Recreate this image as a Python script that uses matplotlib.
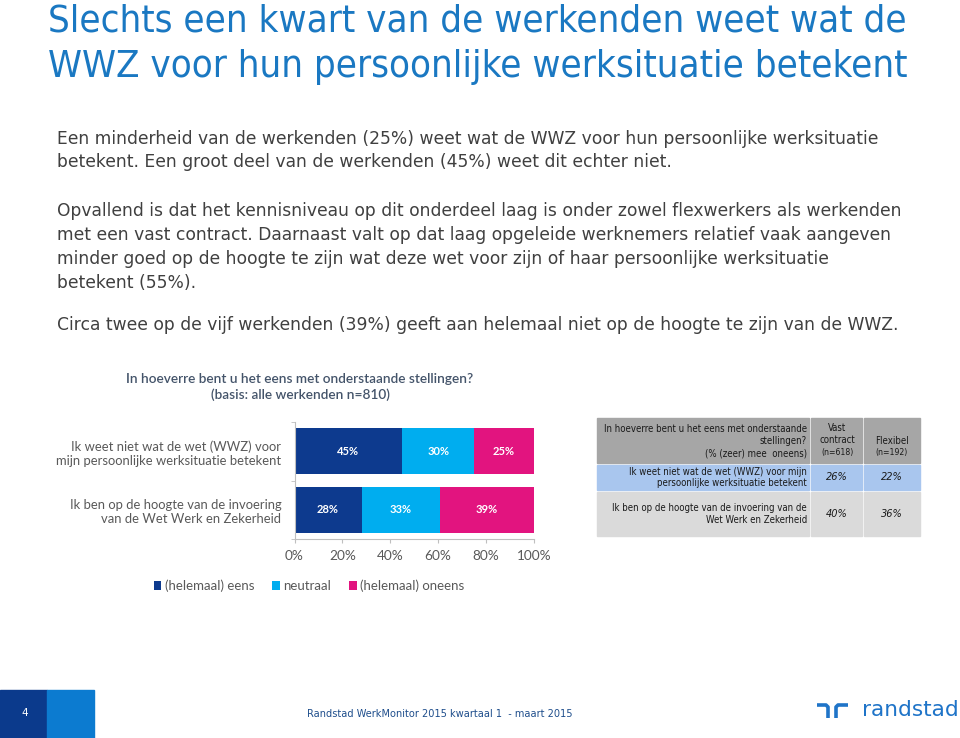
import matplotlib
matplotlib.use("Agg")
import matplotlib.pyplot as plt
from matplotlib.patches import Rectangle
from matplotlib.lines import Line2D
import numpy as np

# ---- data ----
title_lines = ["Slechts een kwart van de werkenden weet wat de",
               "WWZ voor hun persoonlijke werksituatie betekent"]
body_lines = [
    "Een minderheid van de werkenden (25%) weet wat de WWZ voor hun persoonlijke werksituatie",
    "betekent. Een groot deel van de werkenden (45%) weet dit echter niet.",
    "Opvallend is dat het kennisniveau op dit onderdeel laag is onder zowel flexwerkers als werkenden",
    "met een vast contract. Daarnaast valt op dat laag opgeleide werknemers relatief vaak aangeven",
    "minder goed op de hoogte te zijn wat deze wet voor zijn of haar persoonlijke werksituatie",
    "betekent (55%).",
    "Circa twee op de vijf werkenden (39%) geeft aan helemaal niet op de hoogte te zijn van de WWZ.",
]
body_y = [139, 162, 211, 235, 259, 283, 325]

chart_title = "In hoeverre bent u het eens met onderstaande stellingen?\n(basis: alle werkenden n=810)"
statements = ["Ik weet niet wat de wet (WWZ) voor\nmijn persoonlijke werksituatie betekent",
              "Ik ben op de hoogte van de invoering\nvan de Wet Werk en Zekerheid"]
series_names = ["(helemaal) eens", "neutraal", "(helemaal) oneens"]
eens = [0.45, 0.28]
neutraal = [0.30, 0.33]
oneens = [0.25, 0.39]
series_colors = ["#0d3a8e", "#00adef", "#e2147f"]

table_header = ["In hoeverre bent u het eens met onderstaande\nstellingen?\n(% (zeer) mee  oneens)",
                "Vast\ncontract", "Flexibel"]
table_n = ["(n=618)", "(n=192)"]
table_rows = ["Ik weet niet wat de wet (WWZ) voor mijn\npersoonlijke werksituatie betekent",
              "Ik ben op de hoogte van de invoering van de\nWet Werk en Zekerheid"]
vast = [26, 40]
flexibel = [22, 36]

footer_page = "4"
footer_text = "Randstad WerkMonitor 2015 kwartaal 1  - maart 2015"

W, H = 960, 738
fig = plt.figure(figsize=(W / 100, H / 100), dpi=100)


def px(x, y):
    return x / W, 1 - y / H


blue = "#1a78c2"
body_col = "#404040"

# title
for i, line in enumerate(title_lines):
    fig.text(*px(48, 21 + 46 * i), line, fontsize=27.5, color=blue,
             family="DejaVu Sans", fontstretch="condensed", va="center", ha="left")

# body
for line, y in zip(body_lines, body_y):
    fig.text(*px(57, y), line, fontsize=12.3, color=body_col, family="DejaVu Sans",
             va="center", ha="left")

# chart title
fig.text(*px(300, 387), chart_title, fontsize=9.8, color="#44546a", family="Lato",
         fontweight="semibold", ha="center", va="center", linespacing=1.35)

# ---- stacked bar chart ----
x0, x1 = 294.5, 533.8
y0, y1 = 422, 539
ax = fig.add_axes([x0 / W, 1 - y1 / H, (x1 - x0) / W, (y1 - y0) / H])
pos = np.arange(len(statements))
left = np.zeros(len(statements))
handles = []
for vals, name, col in zip([eens, neutraal, oneens], series_names, series_colors):
    b = ax.barh(pos, vals, left=left, height=0.79, color=col, label=name)
    handles.append(b)
    for p, v, l in zip(pos, vals, left):
        ax.text(l + v / 2, p, f"{round(v * 100)}%", color="white", fontsize=8,
                fontweight="bold", family="Lato", ha="center", va="center")
    left = left + np.array(vals)

ax.set_xlim(0, 1)
ax.set_ylim(1.5, -0.5)
ax.set_xticks(np.linspace(0, 1, 6))
ax.set_xticklabels([f"{int(v)}%" for v in np.linspace(0, 100, 6)])
ax.set_yticks(pos)
ax.set_yticklabels(statements)
ax.set_yticks([-0.5, 0.5, 1.5], minor=True)
ax.tick_params(axis="y", which="major", length=0, pad=9.5, labelsize=9.4,
               labelcolor="#595959")
ax.tick_params(axis="y", which="minor", length=3, color="#bfbfbf")
ax.tick_params(axis="x", length=3, color="#bfbfbf", labelsize=9.8,
               labelcolor="#595959", pad=5)
for lbl in ax.get_yticklabels() + ax.get_xticklabels():
    lbl.set_family("Lato")
for lbl in ax.get_yticklabels():
    lbl.set_horizontalalignment("right")
for s in ["top", "right"]:
    ax.spines[s].set_visible(False)
for s in ["left", "bottom"]:
    ax.spines[s].set_color("#bfbfbf")
ax.set_facecolor("none")

fig.legend(handles=handles, labels=series_names, loc="center",
           bbox_to_anchor=px(309, 586), ncol=3, frameon=False,
           prop={"family": "Lato", "size": 9.5}, handlelength=0.6, handleheight=0.6,
           handletextpad=0.25, columnspacing=1.35, labelcolor="#595959")

# ---- table ----
cols = [(597, 809), (811, 862), (864, 920)]
rows = [(418, 463), (465, 490), (492, 536)]
row_colors = ["#a6a6a6", "#a9c6ee", "#dadada"]
for (ra, rb), rc in zip(rows, row_colors):
    for ca, cb in cols:
        fig.patches.append(Rectangle(px(ca, rb), (cb - ca) / W, (rb - ra) / H,
                                     transform=fig.transFigure, color=rc, zorder=0))

tfont = dict(family="DejaVu Sans", fontstretch="condensed", color="#1a1a1a")
fig.text(*px(807, 441), table_header[0], fontsize=6.9, ha="right", va="center",
         linespacing=1.25, **tfont)
fig.text(*px(837, 434), table_header[1], fontsize=6.9, ha="center", va="center",
         linespacing=1.25, **tfont)
fig.text(*px(892, 441), table_header[2], fontsize=6.9, ha="center", va="center", **tfont)
fig.text(*px(837, 453), table_n[0], fontsize=6.2, ha="center", va="center", **tfont)
fig.text(*px(892, 453), table_n[1], fontsize=6.2, ha="center", va="center", **tfont)
for (ra, rb), label, v, f in zip(rows[1:], table_rows, vast, flexibel):
    yc = (ra + rb) / 2
    fig.text(*px(807, yc), label, fontsize=6.9, ha="right", va="center",
             linespacing=1.2, **tfont)
    fig.text(*px(837, yc), f"{v}%", fontsize=7.8, ha="center", va="center",
             style="italic", **tfont)
    fig.text(*px(892, yc), f"{f}%", fontsize=7.8, ha="center", va="center",
             style="italic", **tfont)

# ---- footer ----
fig.patches.append(Rectangle(px(0, 738), 47 / W, 48 / H, transform=fig.transFigure,
                             color="#0b3a8c", zorder=0))
fig.patches.append(Rectangle(px(47, 738), 47 / W, 48 / H, transform=fig.transFigure,
                             color="#0c7bd0", zorder=0))
fig.text(*px(25, 713), footer_page, fontsize=7.5, color="white", ha="center",
         va="center", family="DejaVu Sans")
fig.text(*px(440, 714), footer_text, fontsize=7.8, color="#1f4e8c", ha="center",
         va="center", family="DejaVu Sans", fontstretch="condensed")

# randstad logo
logo_col = "#1f74c8"
for xs, ys in [([817, 826, 828, 828], [705, 705, 707, 718]),
               ([836, 836, 838, 848], [718, 707, 705, 705])]:
    fx = [x / W for x in xs]
    fy = [1 - y / H for y in ys]
    fig.lines.append(Line2D(fx, fy, transform=fig.transFigure, color=logo_col,
                            lw=2.6, solid_capstyle="butt", solid_joinstyle="round"))
fig.text(*px(910, 710), "randstad", fontsize=15.6, color=logo_col, ha="center",
         va="center", family="DejaVu Sans")

fig.savefig("out.png", dpi=100)
